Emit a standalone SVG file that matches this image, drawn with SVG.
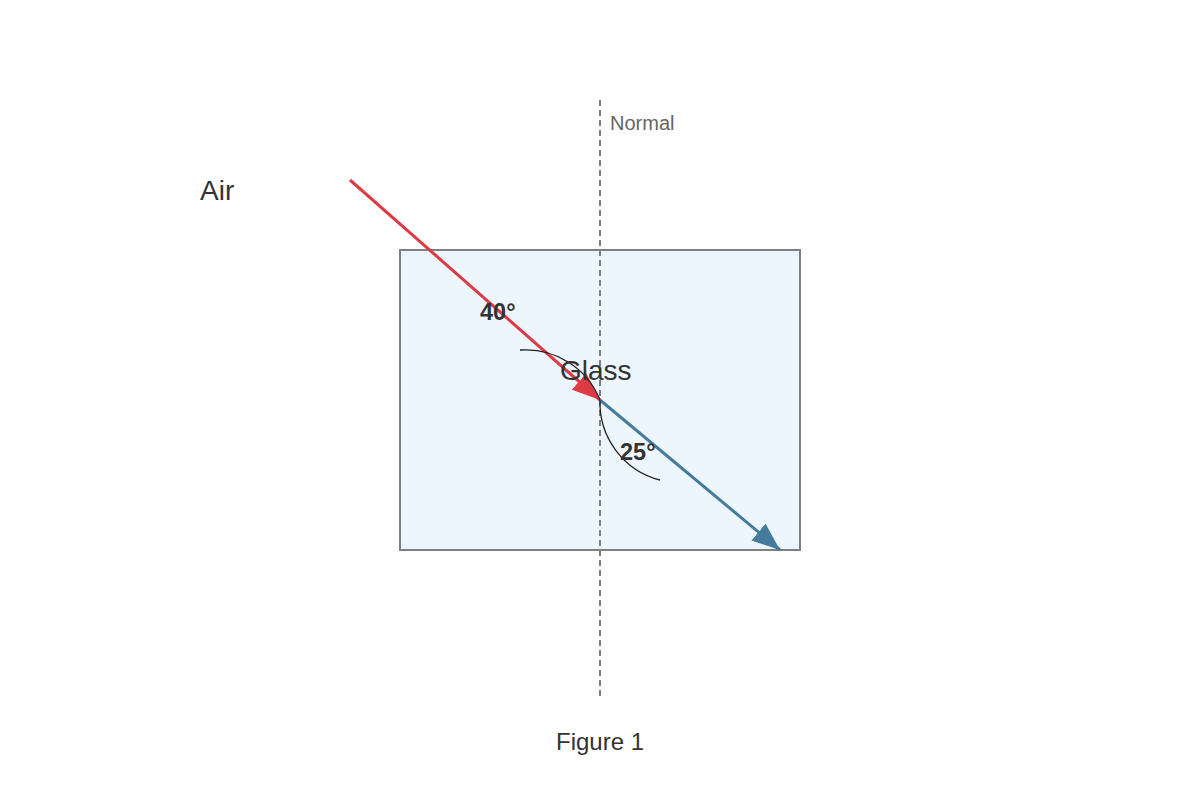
<svg xmlns="http://www.w3.org/2000/svg" width="1200" height="800" viewBox="0 0 1200 800">
<style>
text{font-family:"Liberation Sans",Arial,sans-serif;fill:#333}
.ang{font-size:23.5px;font-weight:bold}
.arc{fill:none;stroke:#222;stroke-width:1.3}
</style>
<defs>
<marker id="redH" viewBox="0 0 28 22" refX="28" refY="11" markerWidth="28" markerHeight="22" markerUnits="userSpaceOnUse" orient="auto"><path d="M0,0 L28,11 L0,22 z" fill="#dc3a44"/></marker>
<marker id="blueH" viewBox="0 0 28 22" refX="28" refY="11" markerWidth="28" markerHeight="22" markerUnits="userSpaceOnUse" orient="auto"><path d="M0,0 L28,11 L0,22 z" fill="#457b9d"/></marker>
</defs>
<rect width="1200" height="800" fill="#fff"/>
<g id="glass"><rect x="400" y="250" width="400" height="300" fill="#eef6fd" stroke="#808080" stroke-width="2"/></g>
<g id="normal"><line x1="600" y1="100" x2="600" y2="697" stroke="#808080" stroke-width="2" stroke-dasharray="6,4"/><text x="610" y="130" font-size="20" style="fill:#666">Normal</text></g>
<g id="connectors">
<line x1="350" y1="180" x2="600" y2="400" stroke="#dc3a44" stroke-width="3" marker-end="url(#redH)"/>
<line x1="600" y1="400" x2="780" y2="550" stroke="#457b9d" stroke-width="3" marker-end="url(#blueH)"/>
</g>
<g id="angles">
<path class="arc" d="M520,350 A80,80 0 0 1 600,400"/>
<path class="arc" d="M600,400 A80,80 0 0 0 660,480"/>
<text class="ang" x="480" y="320">40°</text>
<text class="ang" x="620" y="460">25°</text>
</g>
<g id="labels">
<text x="200" y="200" font-size="28">Air</text>
<text x="560" y="380" font-size="28">Glass</text>
<text x="600" y="750" font-size="24" text-anchor="middle">Figure 1</text>
</g>
</svg>
